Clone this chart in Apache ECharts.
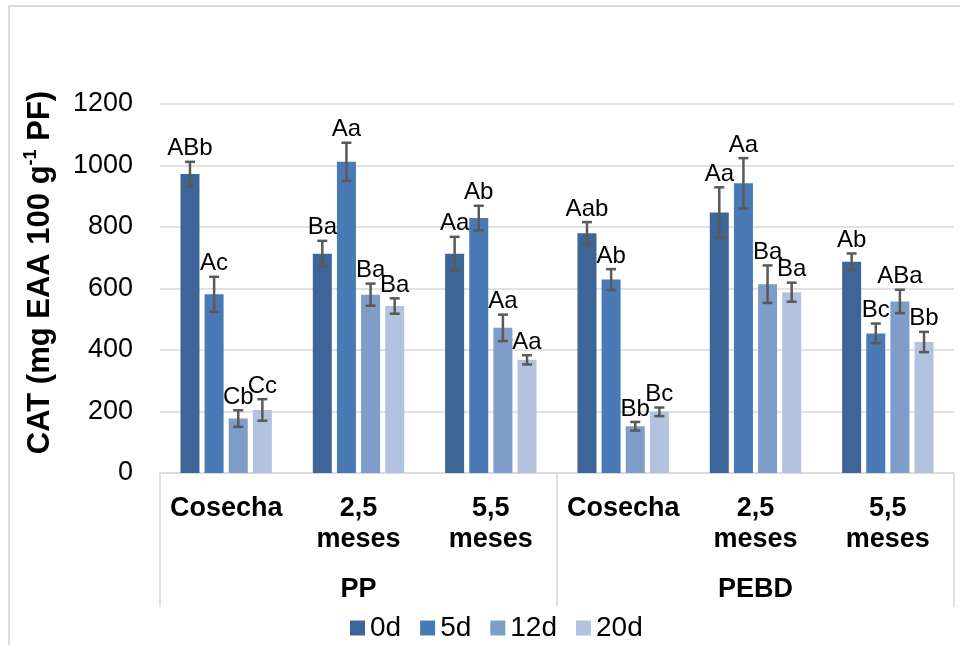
<!DOCTYPE html>
<html>
<head>
<meta charset="utf-8">
<title>CAT</title>
<script src="https://cdn.jsdelivr.net/npm/echarts@6/dist/echarts.min.js"></script>
<style>
  html, body { margin: 0; padding: 0; background: #ffffff; }
  #chart { width: 960px; height: 645px; }
</style>
</head>
<body>
<div id="chart"></div>
<script>
// Storage time (inner category level) and packaging (outer level)
const categories = ['Cosecha', '2,5\nmeses', '5,5\nmeses', 'Cosecha', '2,5\nmeses', '5,5\nmeses'];
const packaging = ['PP', 'PEBD'];
const seriesNames = ['0d', '5d', '12d', '20d'];

// CAT means per shelf-life day (one value per category)
const d0 = [972, 713, 713, 780, 847, 687];
const d5 = [581, 1012, 829, 629, 942, 454];
const d12 = [177, 580, 472, 152, 614, 558];
const d20 = [205, 543, 368, 199, 588, 426];

// Standard errors
const e0 = [40, 42, 55, 36, 82, 27];
const e5 = [57, 62, 40, 34, 82, 32];
const e12 = [27, 36, 43, 14, 61, 38];
const e20 = [35, 25, 15, 14, 31, 33];

// Significance letters
const l0 = ['ABb', 'Ba', 'Aa', 'Aab', 'Aa', 'Ab'];
const l5 = ['Ac', 'Aa', 'Ab', 'Ab', 'Aa', 'Bc'];
const l12 = ['Cb', 'Ba', 'Aa', 'Bb', 'Ba', 'ABa'];
const l20 = ['Cc', 'Ba', 'Aa', 'Bc', 'Ba', 'Bb'];

const yTicks = { min: 0, max: 1200, interval: 200 };

const colors = ['#3D6597', '#4A7AB5', '#7F9DC9', '#B3C3DF'];
const BAR_W = 19;
const BAR_GAP = 0.27;

const values = [d0, d5, d12, d20];
const errors = [e0, e5, e12, e20];
const letters = [l0, l5, l12, l20];

// rows for the error-bar / letter overlay: [category, series, value, error, letters]
const errRows = [];
values.forEach((vals, k) => {
  vals.forEach((v, i) => errRows.push([i, k, v, errors[k][i], letters[k][i]]));
});

const FONT = '"Liberation Sans", Arial, sans-serif';
const chart = echarts.init(document.getElementById('chart'), null, { renderer: 'canvas' });

const gridBox = { left: 160, right: 6, top: 104, bottom: 172 };

const option = {
  animation: false,
  backgroundColor: '#ffffff',
  textStyle: { fontFamily: FONT },
  color: colors,
  graphic: [{
    type: 'rect',
    silent: true,
    shape: { x: 9, y: 6, width: 1000, height: 1000 },
    style: { fill: 'none', stroke: '#DCDCDC', lineWidth: 2 }
  }],
  grid: [
    Object.assign({}, gridBox),
    Object.assign({}, gridBox)
  ],
  legend: {
    data: seriesNames,
    left: 345,
    top: 609,
    icon: 'rect',
    itemWidth: 15,
    itemHeight: 15,
    itemGap: 19,
    textStyle: { fontSize: 28, color: '#000', fontFamily: FONT }
  },
  xAxis: [{
    type: 'category',
    gridIndex: 0,
    data: categories,
    axisLine: { show: true, lineStyle: { color: '#D9D9D9', width: 1.5 } },
    axisTick: { show: false },
    axisLabel: {
      interval: 0,
      margin: 20,
      fontSize: 27,
      fontWeight: 'bold',
      lineHeight: 31,
      color: '#000',
      fontFamily: FONT
    }
  }, {
    type: 'category',
    gridIndex: 1,
    position: 'bottom',
    data: packaging,
    axisLine: { show: false },
    axisTick: { show: true, interval: 0, length: 134, lineStyle: { color: '#D9D9D9', width: 1.5 } },
    axisLabel: {
      interval: 0,
      margin: 101,
      fontSize: 27,
      fontWeight: 'bold',
      lineHeight: 31,
      color: '#000',
      fontFamily: FONT
    }
  }],
  yAxis: [{
    type: 'value',
    gridIndex: 0,
    min: yTicks.min,
    max: yTicks.max,
    interval: yTicks.interval,
    axisLine: { show: false },
    axisTick: { show: false },
    splitLine: { show: true, lineStyle: { color: '#D9D9D9', width: 1.5 } },
    axisLabel: {
      fontSize: 27,
      color: '#000',
      margin: 27,
      fontFamily: FONT,
      formatter: function (v) { return String(v); }
    },
    name: '{t|CAT (mg EAA 100 g}{s|-1}{t| PF)}',
    nameLocation: 'middle',
    nameRotate: 90,
    nameGap: 102,
    nameTextStyle: {
      padding: [0, 0, 0, 32],
      rich: {
        t: { fontSize: 31, fontWeight: 'bold', color: '#000', lineHeight: 36, fontFamily: FONT },
        s: { fontSize: 18, fontWeight: 'bold', color: '#000', lineHeight: 18, verticalAlign: 'top', fontFamily: FONT }
      }
    }
  }, {
    type: 'value',
    gridIndex: 1,
    min: yTicks.min,
    max: yTicks.max,
    show: false
  }],
  series: seriesNames.map((name, k) => ({
    name: name,
    type: 'bar',
    xAxisIndex: 0,
    yAxisIndex: 0,
    data: values[k],
    barWidth: BAR_W,
    barGap: (BAR_GAP * 100) + '%',
    itemStyle: { color: colors[k] },
    z: 2
  })).concat([{
    type: 'custom',
    name: 'err',
    xAxisIndex: 0,
    yAxisIndex: 0,
    data: errRows,
    z: 5,
    encode: { x: 0, y: 2 },
    renderItem: function (params, api) {
      const cat = api.value(0);
      const k = api.value(1);
      const v = api.value(2);
      const e = api.value(3);
      const txt = errRows[params.dataIndex][4];
      const pitch = BAR_W * (1 + BAR_GAP);
      const base = api.coord([cat, v]);
      const x = base[0] + (k - 1.5) * pitch;
      const yTop = api.coord([cat, v + e])[1];
      const yBot = api.coord([cat, v - e])[1];
      const cap = 5;
      const stroke = { stroke: '#595959', lineWidth: 2.5 };
      return {
        type: 'group',
        children: [
          { type: 'line', shape: { x1: x, y1: yTop, x2: x, y2: yBot }, style: stroke },
          { type: 'line', shape: { x1: x - cap, y1: yTop, x2: x + cap, y2: yTop }, style: stroke },
          { type: 'line', shape: { x1: x - cap, y1: yBot, x2: x + cap, y2: yBot }, style: stroke },
          {
            type: 'text',
            style: {
              text: txt,
              x: x,
              y: yTop - 1,
              align: 'center',
              verticalAlign: 'bottom',
              fontSize: 24,
              fontFamily: FONT,
              fill: '#000'
            }
          }
        ]
      };
    }
  }])
};

chart.setOption(option);
</script>
</body>
</html>
